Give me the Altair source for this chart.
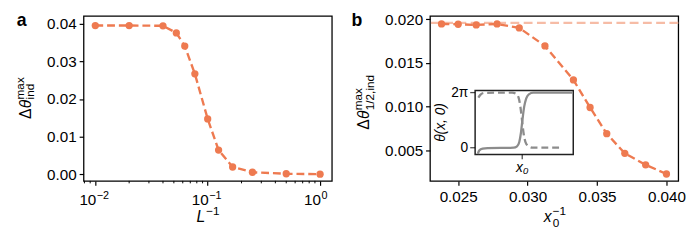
import math
import altair as alt
import pandas as pd

FONT = "Liberation Sans"
ORANGE = "#EE7A50"
LIGHT = "#F6BCA6"
GRAY = "#8C8C8C"
W, H = 253, 168
LS = 15.5  # tick label size

# ---------------- panel a data
a_x = [0.01, 0.02, 0.04, 0.0526, 0.0625, 0.0769, 0.1, 0.125, 0.1667, 0.25, 0.5, 1.0]
a_y = [0.03957, 0.03957, 0.0395, 0.0376, 0.0341, 0.0267, 0.0147, 0.0064, 0.0019, 0.0005, 0.0001, 0.0]
a_major = [0.01, 0.1, 1.0]
a_major_base = ["10", "10", "10"]
a_major_exp = ["\u22122", "\u22121", "0"]
a_minor = [0.008, 0.009, 0.02, 0.03, 0.04, 0.05, 0.06, 0.07, 0.08, 0.09,
           0.2, 0.3, 0.4, 0.5, 0.6, 0.7, 0.8, 0.9]
a_yticks = [0.0, 0.01, 0.02, 0.03, 0.04]

# ---------------- panel b data
b_x = [0.0238, 0.025, 0.0263, 0.0278, 0.0294, 0.03125, 0.0333, 0.0345, 0.0357, 0.037, 0.0385, 0.04]
b_y = [0.01947, 0.01944, 0.01936, 0.01947, 0.01902, 0.01696, 0.01306, 0.00991, 0.00691, 0.00466, 0.00335, 0.0023]
b_ref = [0.01959]
b_xticks = [0.025, 0.03, 0.035, 0.04]
b_yticks = [0.005, 0.01, 0.015, 0.02]

# ---------------- inset data
ins_solid_x = [2.7, 4.3, 7.7, 12.7, 39.3, 42.7, 45.0, 46.7, 48.3, 50.0, 52.0, 54.7, 59.3, 99.3]
ins_solid_y = [-0.69, -0.30, -0.11, -0.04, 0.0, 0.15, 0.65, 1.71, 3.24, 4.68, 5.60, 6.09, 6.28, 6.28]
ins_dash_x = [3.3, 5.3, 9.3, 37.7, 42.0, 44.3, 46.0, 47.7, 49.3, 51.3, 54.3, 58.7, 89.3]
ins_dash_y = [5.71, 6.02, 6.25, 6.28, 6.13, 5.71, 4.76, 3.24, 1.71, 0.65, 0.19, 0.0, 0.0]
ins_yticks = [0.0, 2 * math.pi]
ins_ylabels = ["0", "2\u03c0"]
ins_xticks = [48.0]
ins_xlabels = ["x\u2080"]
ins_xdom = [0, 100]
ins_ydom = [-0.76, 6.51]


def txt(text, x, y, size=14, angle=0, align="left", baseline="alphabetic",
        dx=0, dy=0, style="normal", weight="normal", color="black"):
    return alt.Chart(pd.DataFrame({"t": [text]})).mark_text(
        text=text, font=FONT, fontSize=size, angle=angle, align=align,
        baseline=baseline, dx=dx, dy=dy, fontStyle=style, fontWeight=weight,
        color=color,
    ).encode(x=alt.value(x), y=alt.value(y))


axis_common = dict(labelFont=FONT, labelFontSize=LS, labelColor="black",
                   tickColor="black", tickWidth=1.2, tickSize=4.5,
                   domain=False, grid=False, title=None)

# ================= panel a
dfa = pd.DataFrame({"x": a_x, "y": a_y})
xs_a = alt.Scale(type="log", domain=[0.00786, 1.273], nice=False)
ys_a = alt.Scale(domain=[-0.0018, 0.0421], nice=False, zero=False)

base_a = alt.Chart(dfa).encode(
    x=alt.X("x:Q", scale=xs_a, axis=alt.Axis(values=a_major, labels=False, **axis_common)),
    y=alt.Y("y:Q", scale=ys_a, axis=alt.Axis(values=a_yticks, format=".2f", labelPadding=3,
                                              **axis_common)),
)
line_a = base_a.mark_line(color=ORANGE, strokeWidth=2.4, strokeDash=[8, 4])
pts_a = base_a.mark_circle(color=ORANGE, size=55, opacity=1)

minor_a = alt.Chart(pd.DataFrame({"m": a_minor})).mark_rule(color="black", strokeWidth=1).encode(
    x=alt.X("m:Q", scale=xs_a), y=alt.value(H), y2=alt.value(H + 2.5))

lab_df = pd.DataFrame({"v": a_major, "b": a_major_base, "e": a_major_exp})
lab_base = alt.Chart(lab_df).mark_text(font=FONT, fontSize=LS, align="right", dx=1,
                                       baseline="alphabetic", color="black").encode(
    x=alt.X("v:Q", scale=xs_a), y=alt.value(H + 25), text="b:N")
lab_exp = alt.Chart(lab_df).mark_text(font=FONT, fontSize=11, align="left", dx=1.5,
                                      baseline="alphabetic", color="black").encode(
    x=alt.X("v:Q", scale=xs_a), y=alt.value(H + 18), text="e:N")

title_a = [
    txt("\u0394", -54, 105, size=16, angle=270),
    txt("\u03b8", -54, 105, size=16, angle=270, dx=11, style="italic"),
    txt("max", -54, 105, size=12, angle=270, dx=20, dy=-7),
    txt("ind", -54, 105, size=12, angle=270, dx=20, dy=4),
    txt("L", 115, 210, size=16, style="italic"),
    txt("\u22121", 125, 210, size=12, dy=-7),
    txt("a", -68, 10, size=18, weight="bold"),
]

panel_a = alt.layer(line_a, pts_a, minor_a, lab_base, lab_exp, *title_a).properties(width=W, height=H)

# ================= panel b
dfb = pd.DataFrame({"x": b_x, "y": b_y})
xs_b = alt.Scale(domain=[0.02297, 0.04085], nice=False, zero=False)
ys_b = alt.Scale(domain=[0.00151, 0.02038], nice=False, zero=False)

base_b = alt.Chart(dfb).encode(
    x=alt.X("x:Q", scale=xs_b, axis=alt.Axis(values=b_xticks, format=".3f", labelPadding=5,
                                              **axis_common)),
    y=alt.Y("y:Q", scale=ys_b, axis=alt.Axis(values=b_yticks, format=".3f", labelPadding=3,
                                              **axis_common)),
)
ref_b = alt.Chart(pd.DataFrame({"r": b_ref})).mark_rule(
    color=LIGHT, strokeWidth=2.4, strokeDash=[9, 4.5]).encode(y=alt.Y("r:Q", scale=ys_b))
line_b = base_b.mark_line(color=ORANGE, strokeWidth=2.4, strokeDash=[8, 4])
pts_b = base_b.mark_circle(color=ORANGE, size=55, opacity=1)

title_b = [
    txt("\u0394", -62, 116, size=16, angle=270),
    txt("\u03b8", -62, 116, size=16, angle=270, dx=11, style="italic"),
    txt("max", -62, 116, size=12, angle=270, dx=20, dy=-7),
    txt("1/2,ind", -62, 116, size=12, angle=270, dx=20, dy=4.5),
    txt("x", 116, 210, size=16, style="italic"),
    txt("\u22121", 125, 210, size=12, dy=-7),
    txt("0", 125, 210, size=12, dy=5),
    txt("b", -80, 10, size=18, weight="bold"),
]
main_b = alt.layer(ref_b, line_b, pts_b, *title_b)

# inset
ixs = alt.Scale(domain=ins_xdom, range=[46, 146], nice=False, zero=False)
iys = alt.Scale(domain=ins_ydom, range=[141, 76], nice=False, zero=False)
frame = alt.Chart(pd.DataFrame({"x1": [ins_xdom[0]], "x2": [ins_xdom[1]],
                                "y1": [ins_ydom[0]], "y2": [ins_ydom[1]]})).mark_rect(
    fill="white", stroke="#222222", strokeWidth=1.5).encode(
    x=alt.X("x1:Q", scale=ixs, axis=None), x2="x2:Q",
    y=alt.Y("y1:Q", scale=iys, axis=None), y2="y2:Q")
solid = alt.Chart(pd.DataFrame({"x": ins_solid_x, "y": ins_solid_y})).mark_line(
    color=GRAY, strokeWidth=2.3, interpolate="monotone").encode(
    x=alt.X("x:Q", scale=ixs, axis=None), y=alt.Y("y:Q", scale=iys, axis=None))
dashed = alt.Chart(pd.DataFrame({"x": ins_dash_x, "y": ins_dash_y})).mark_line(
    color=GRAY, strokeWidth=2.3, strokeDash=[7, 4], interpolate="monotone").encode(
    x=alt.X("x:Q", scale=ixs, axis=None), y=alt.Y("y:Q", scale=iys, axis=None))
yt_df = pd.DataFrame({"x": [ins_xdom[0]] * 2, "y": ins_yticks, "l": ins_ylabels})
yticks_i = alt.Chart(yt_df).mark_tick(orient="horizontal", size=5, thickness=1.3,
                                      color="black", xOffset=-2.5).encode(
    x=alt.X("x:Q", scale=ixs, axis=None), y=alt.Y("y:Q", scale=iys, axis=None))
ylabs_i = alt.Chart(yt_df).mark_text(font=FONT, fontSize=14, align="right", baseline="middle",
                                     dx=-7, color="black").encode(
    x=alt.X("x:Q", scale=ixs, axis=None), y=alt.Y("y:Q", scale=iys, axis=None), text="l:N")
xt_df = pd.DataFrame({"x": ins_xticks, "y": [ins_ydom[0]], "l": ins_xlabels})
xticks_i = alt.Chart(xt_df).mark_tick(orient="vertical", size=5, thickness=1.3,
                                      color="black", yOffset=2.5).encode(
    x=alt.X("x:Q", scale=ixs, axis=None), y=alt.Y("y:Q", scale=iys, axis=None))
xlabs_i = alt.Chart(xt_df).mark_text(font=FONT, fontSize=14, align="center", baseline="top",
                                     dy=7, fontStyle="italic", color="black").encode(
    x=alt.X("x:Q", scale=ixs, axis=None), y=alt.Y("y:Q", scale=iys, axis=None), text="l:N")
ititle = alt.Chart(pd.DataFrame({"x": [-35], "y": [(ins_ydom[0] + ins_ydom[1]) / 2]})).mark_text(
    text="\u03b8(x, 0)", font=FONT, fontSize=14, angle=270, align="center",
    baseline="middle", fontStyle="italic", color="black").encode(
    x=alt.X("x:Q", scale=ixs, axis=None), y=alt.Y("y:Q", scale=iys, axis=None))
inset = alt.layer(frame, solid, dashed, yticks_i, ylabs_i, xticks_i, xlabs_i, ititle)

panel_b = alt.layer(main_b, inset).resolve_scale(x="independent", y="independent").properties(
    width=W, height=H)

chart = alt.hconcat(panel_a, panel_b, spacing=18).properties(
    padding={"left": 5, "top": 1, "right": 5, "bottom": 5}).configure_view(
    stroke="black", strokeWidth=1.3)

chart.save("out.html", embed_options={"renderer": "svg", "actions": False})
